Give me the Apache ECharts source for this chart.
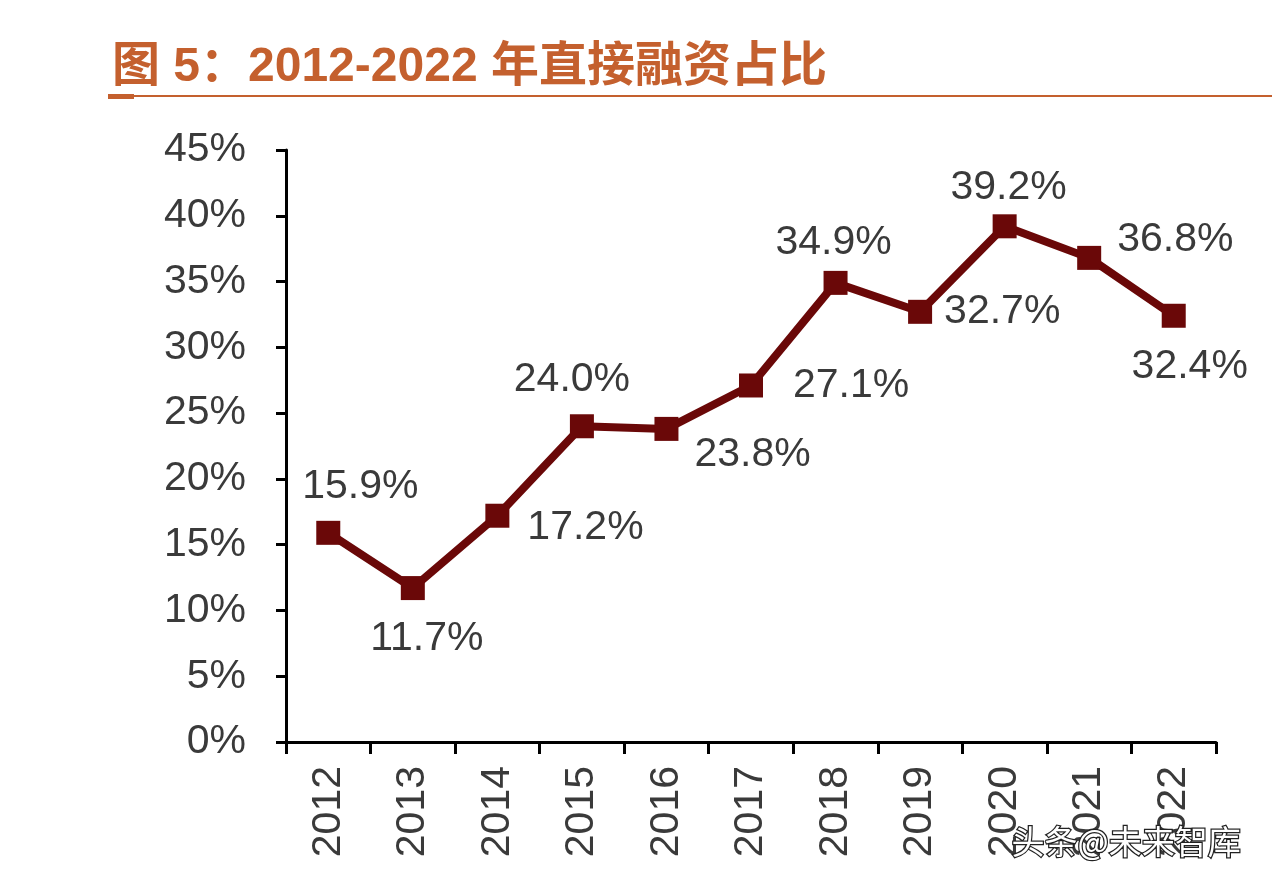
<!DOCTYPE html>
<html>
<head>
<meta charset="utf-8">
<script src="https://cdn.jsdelivr.net/npm/echarts@6/dist/echarts.min.js"></script>
<style>
html,body{margin:0;padding:0;background:#fff;}
#c{width:1272px;height:884px;}
</style>
</head>
<body>
<div id="c"></div>
<script>
const years = ['2012','2013','2014','2015','2016','2017','2018','2019','2020','2021','2022'];
const shares = [15.9, 11.7, 17.2, 24.0, 23.8, 27.1, 34.9, 32.7, 39.2, 36.8, 32.4];
const yTicks = [0, 5, 10, 15, 20, 25, 30, 35, 40, 45];
const titleText = '图 5：2012-2022 年直接融资占比';
const watermark = '头条@未来智库';

const labelLayout = [
  {position:'top', offset:[32,-4]},
  {position:'bottom', offset:[14,8]},
  {position:'right', offset:[8,12]},
  {position:'top', offset:[-10,-4]},
  {position:'right', offset:[6,26]},
  {position:'right', offset:[20,0]},
  {position:'top', offset:[-2,2]},
  {position:'right', offset:[2,0]},
  {position:'top', offset:[4,4]},
  {position:'right', offset:[6,-18]},
  {position:'bottom', offset:[16,8]}
];

const chart = echarts.init(document.getElementById('c'), null, {renderer:'canvas'});
const txt = '#3a3a3a';
const font = 'Liberation Sans, Arial, sans-serif';

chart.setOption({
  backgroundColor:'#ffffff',
  animation:false,
  grid:{left:286, right:56, top:150, bottom:142, containLabel:false},
  xAxis:{
    type:'category',
    data:years,
    boundaryGap:true,
    axisLine:{lineStyle:{color:'#000', width:3}},
    axisTick:{show:true, length:12, lineStyle:{color:'#000', width:3}},
    axisLabel:{rotate:90, color:txt, fontSize:41, fontFamily:font, margin:24}
  },
  yAxis:{
    type:'value',
    min:0, max:45, interval:5,
    splitLine:{show:false},
    axisLine:{show:true, lineStyle:{color:'#000', width:3}},
    axisTick:{show:true, length:10, lineStyle:{color:'#000', width:3}},
    axisLabel:{color:txt, fontSize:41, fontFamily:font, margin:40,
      formatter:v => yTicks.includes(v) ? v + '%' : ''}
  },
  series:[{
    type:'line',
    data:shares.map((v,i)=>({value:v, label:{position:labelLayout[i].position, offset:labelLayout[i].offset}})),
    symbol:'rect',
    symbolSize:24,
    lineStyle:{color:'#6a0808', width:8},
    itemStyle:{color:'#6a0808'},
    label:{show:true, color:txt, fontSize:41, fontFamily:font, distance:10,
      formatter:p => p.value.toFixed(1) + '%'}
  }],
  graphic:[
    {type:'text', left:112, top:44, style:{text:titleText, fill:'#c4602e', font:'bold 48px "Liberation Sans", "Noto Sans CJK SC", sans-serif'}},
    {type:'rect', shape:{x:108, y:95, width:1164, height:2}, style:{fill:'#c4602e'}},
    {type:'rect', shape:{x:108, y:94, width:26, height:5}, style:{fill:'#c4602e'}},
    {type:'text', right:30, top:824, style:{text:watermark, fill:'#ffffff', stroke:'#222', lineWidth:2.5, font:'33px "Noto Sans CJK SC", sans-serif'}, z:100}
  ]
});
</script>
</body>
</html>
